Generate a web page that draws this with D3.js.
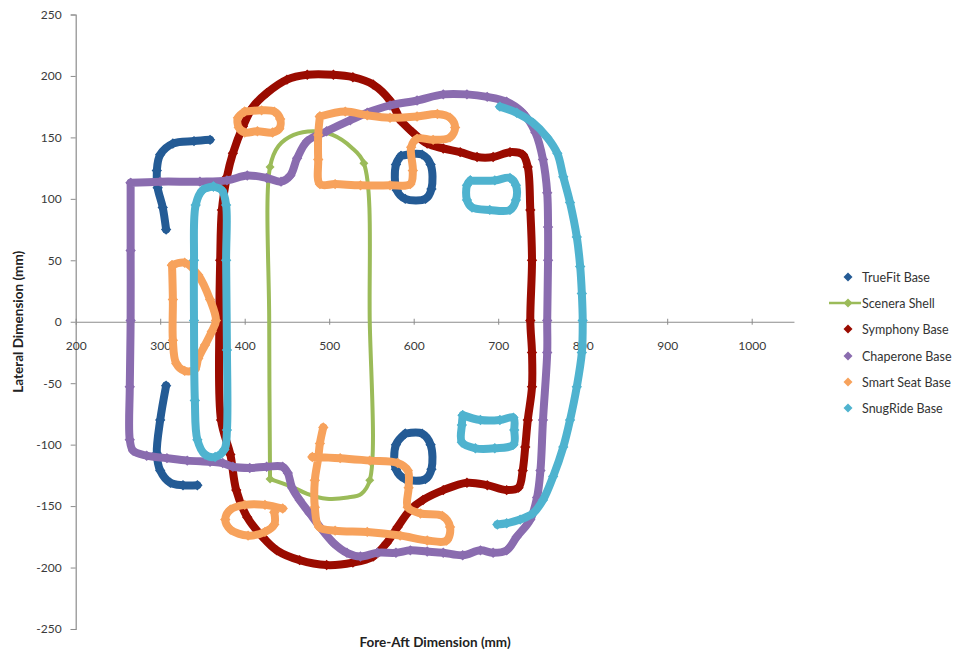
<!DOCTYPE html>
<html><head><meta charset="utf-8">
<script src="https://cdn.jsdelivr.net/npm/d3@7"></script>
<style>body{margin:0;background:#fff}svg{display:block}text{font-family:Lato,"Open Sans",sans-serif}</style>
</head><body><svg id="c" width="959" height="652"></svg>
<script>
// ---- Data (Fore-Aft mm, Lateral mm) ----
const seriesNames = ["TrueFit Base","Scenera Shell","Symphony Base","Chaperone Base","Smart Seat Base","SnugRide Base"];
const xTicks = [200,300,400,500,600,700,800,900,1000];
const yTicks = [-250,-200,-150,-100,-50,0,50,100,150,200,250];

const trueFitUpperLeft = [[359,148],[340,147],[315,145],[300,136],[296,123],[297,109],[303,93],[307,75]];
const trueFitLowerLeft = [[307,-52],[300,-80],[296,-107],[300,-121],[312,-131],[327,-133],[344,-133]];
const trueFitUpperLoop = [[585,135],[610,136],[620,128],[621,108],[614,100],[590,100],[580,107],[579,128],[585,135]];
const trueFitLowerLoop = [[590,-91],[610,-91],[620,-100],[621,-120],[614,-128],[590,-128],[579,-120],[579,-100],[590,-91]];

const sceneraShell = [[430,-128],[429,0],[430,126],[440,143],[458,152],[481,155],[504,152],[526,142],[541,129],[548,0],[548,-129],[538,-140],[522,-143],[497,-144],[474,-140],[455,-134],[430,-128]];
const sceneraMarkers = [[430,-128],[430,126],[541,129],[548,-129]];

const symphony = [[584,164],[572,180],[552,193],[528,199],[505,201],[474,201],[450,197],[426,186],[410,175],[398,159],[386,137],[379,118],[373,91],[371,50],[370,1],[372,-80],[383,-108],[390,-137],[403,-159],[421,-175],[438,-186],[465,-194],[497,-198],[528,-196],[552,-191],[568,-180],[581,-167],[596,-153],[611,-145],[635,-137],[663,-131],[687,-133],[710,-137],[724,-135],[729,-121],[732,-102],[735,-80],[740,-53],[740,-25],[738,1],[740,50],[738,91],[735,126],[729,136],[714,138],[694,134],[675,134],[655,138],[635,141],[616,145],[599,154],[584,164]];

const chaperone = [[265,113],[300,114],[347,114],[379,115],[403,119],[426,117],[443,114],[454,119],[462,133],[474,147],[497,155],[525,164],[545,170],[572,176],[604,180],[635,185],[663,185],[687,183],[710,179],[729,170],[744,154],[753,132],[758,105],[759,77],[759,50],[758,1],[758,-25],[753,-80],[750,-121],[746,-143],[738,-161],[722,-175],[710,-186],[694,-188],[679,-186],[658,-190],[635,-188],[616,-187],[596,-186],[579,-188],[557,-188],[537,-191],[521,-188],[505,-180],[489,-167],[477,-156],[465,-145],[456,-135],[451,-123],[445,-118],[426,-118],[406,-119],[386,-118],[374,-115],[359,-114],[332,-113],[308,-111],[284,-109],[268,-105],[264,-96],[264,-53],[265,1],[265,58],[265,113]];

const smartSeatTopLoop = [[400,171],[420,172],[435,171],[442,165],[441,157],[433,154],[415,155],[400,154],[393,158],[392,166],[400,171]];
const smartSeatTopRect = [[489,167],[519,171],[545,168],[572,166],[604,167],[628,169],[643,166],[649,158],[643,150],[623,148],[604,149],[597,142],[599,123],[596,112],[572,111],[537,111],[507,112],[489,112],[487,132],[487,152],[489,167]];
const smartSeatLeftLoop = [[314,46],[329,48],[345,38],[359,18],[366,1],[361,-8],[353,-19],[345,-30],[341,-39],[329,-40],[319,-34],[315,-15],[315,18],[314,46]];
const smartSeatBottomLoop = [[445,-152],[424,-149],[400,-149],[383,-153],[377,-161],[383,-169],[404,-174],[424,-171],[435,-165],[435,-155]];
const smartSeatBottomRect = [[493,-86],[489,-99],[487,-111],[483,-129],[483,-151],[488,-167],[507,-170],[545,-171],[584,-174],[616,-178],[639,-178],[643,-167],[634,-158],[608,-156],[593,-151],[594,-135],[593,-121],[581,-115],[548,-113],[513,-111],[480,-110]];

const snugRideLeftLoop = [[363,110],[350,107],[342,95],[340,50],[340,1],[341,-64],[344,-96],[353,-108],[365,-110],[376,-104],[379,-88],[379,-23],[378,50],[378,95],[373,107],[363,110]];
const snugRideUpperLoop = [[667,115],[696,115],[714,117],[721,111],[721,99],[714,91],[690,91],[669,93],[663,99],[663,111],[667,115]];
const snugRideLowerLoop = [[658,-76],[679,-80],[702,-80],[718,-78],[719,-88],[718,-100],[696,-103],[673,-103],[657,-98],[657,-84],[658,-76]];
const snugRideOuter = [[702,175],[722,170],[741,162],[758,150],[770,137],[777,118],[785,97],[793,69],[797,45],[799,23],[800,1],[799,-25],[793,-53],[785,-80],[777,-102],[765,-126],[753,-145],[741,-156],[726,-161],[710,-164],[699,-165]];

const seriesColors = ["#245b95","#9bbb59","#9a0b00","#8a6caf","#f7a25c","#4fb3cf"];

// ---- Chart ----
const svg = d3.select("#c");
const x = d3.scaleLinear().domain([200,1050]).range([75.7,793.95]);
const y = d3.scaleLinear().domain([-250,250]).range([628.98,14.5]);
const axisColor = "#8c8c8c";
const fmt = d => String(d);

// y axis
const yAxis = svg.append("g").attr("transform",`translate(${x(200)},0)`)
  .call(d3.axisLeft(y).tickValues(yTicks).tickFormat(fmt).tickSize(5).tickPadding(9));
yAxis.select(".domain").attr("stroke",axisColor).attr("stroke-width",1.2);
yAxis.selectAll(".tick line").attr("stroke",axisColor);
yAxis.selectAll("text").attr("font-size",12).attr("fill","#3a3a3a").attr("font-family","Lato, 'Open Sans', sans-serif");

// x axis at y=0
const xAxis = svg.append("g").attr("transform",`translate(0,${y(0)})`)
  .call(d3.axisBottom(x).tickValues(xTicks).tickFormat(fmt).tickSize(4).tickPadding(16).tickSizeOuter(0));
xAxis.select(".domain").attr("stroke",axisColor).attr("stroke-width",1.2);
xAxis.selectAll(".tick line").attr("stroke",axisColor).attr("y1",-3).attr("y2",3);
xAxis.selectAll("text").attr("font-size",12).attr("fill","#3a3a3a").attr("font-family","Lato, 'Open Sans', sans-serif");

// axis titles
svg.append("text").attr("x",435).attr("y",647).attr("text-anchor","middle")
  .attr("font-size",13.5).attr("font-weight","bold").attr("fill","#222").text("Fore-Aft Dimension (mm)");
svg.append("text").attr("transform",`translate(23,${y(0)}) rotate(-90)`).attr("text-anchor","middle")
  .attr("font-size",13.5).attr("font-weight","bold").attr("fill","#222").text("Lateral Dimension (mm)");

const diamond = r => `M0,${-r}L${r},0L0,${r}L${-r},0Z`;
const smooth = d3.line().x(d=>x(d[0])).y(d=>y(d[1])).curve(d3.curveCatmullRom.alpha(0.5));

function band(pts, color){
  const g = svg.append("g");
  g.append("path").attr("d", smooth(pts)).attr("fill","none").attr("stroke",color)
    .attr("stroke-width",8).attr("stroke-linejoin","round").attr("stroke-linecap","round");
  g.selectAll("path.m").data(pts).join("path").attr("class","m")
    .attr("transform",d=>`translate(${x(d[0])},${y(d[1])})`).attr("d",diamond(5.2)).attr("fill",color);
}

// TrueFit
[trueFitUpperLeft,trueFitLowerLeft,trueFitUpperLoop,trueFitLowerLoop].forEach(p=>band(p,seriesColors[0]));
// Scenera Shell
svg.append("path").attr("d",smooth(sceneraShell)).attr("fill","none").attr("stroke",seriesColors[1]).attr("stroke-width",4);
svg.selectAll("path.sm").data(sceneraMarkers).join("path").attr("class","sm")
  .attr("transform",d=>`translate(${x(d[0])},${y(d[1])})`).attr("d",diamond(4.5)).attr("fill",seriesColors[1]);
// Symphony
band(symphony, seriesColors[2]);
// Chaperone
band(chaperone, seriesColors[3]);
// Smart Seat
[smartSeatTopLoop,smartSeatTopRect,smartSeatLeftLoop,smartSeatBottomLoop,smartSeatBottomRect].forEach(p=>band(p,seriesColors[4]));
// SnugRide
[snugRideLeftLoop,snugRideUpperLoop,snugRideLowerLoop,snugRideOuter].forEach(p=>band(p,seriesColors[5]));

// Legend
const lg = svg.append("g");
const legendY = [277,303,329,356,382,408];
seriesNames.forEach((n,i)=>{
  const row = lg.append("g").attr("transform",`translate(848,${legendY[i]})`);
  if(i===1) row.append("line").attr("x1",-19).attr("x2",13).attr("stroke",seriesColors[i]).attr("stroke-width",2.5);
  row.append("path").attr("d",diamond(4.5)).attr("fill",seriesColors[i]);
  row.append("text").attr("x",14).attr("y",4.5).attr("font-size",12.5).attr("fill","#333").text(n);
});
</script></body></html>
